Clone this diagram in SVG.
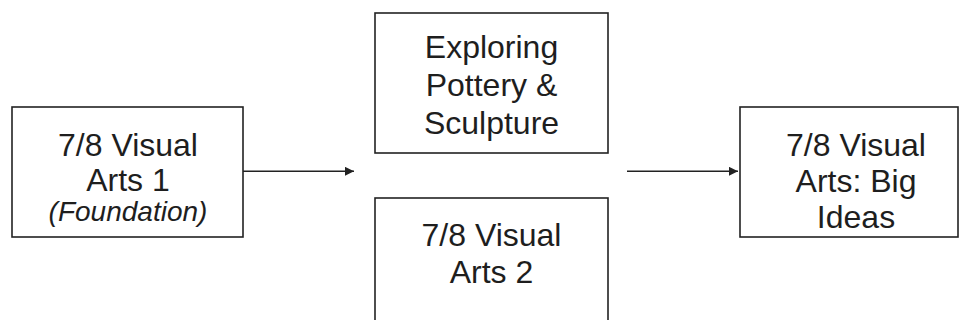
<svg xmlns="http://www.w3.org/2000/svg" width="960" height="320" viewBox="0 0 960 320">
  <defs>
    <style>
      .box { fill: #ffffff; stroke: #222222; stroke-width: 1.6; }
      .lbl { font-family: "Liberation Sans", Arial, sans-serif; font-size: 32px; fill: #1e1e1e; text-anchor: middle; }
      .it { font-style: italic; font-size: 28px; }
      .edge { fill: none; stroke: #222222; stroke-width: 1.6; }
    </style>
    <marker id="arrow" viewBox="0 0 10 10" refX="10" refY="5" markerWidth="10" markerHeight="9" markerUnits="userSpaceOnUse" orient="auto">
      <path d="M0,0 L10,5 L0,10 Z" fill="#222222"/>
    </marker>
  </defs>
  <rect width="960" height="320" fill="#ffffff"/>

  <g id="node-va1">
    <rect class="box" x="12" y="107" width="231" height="130"/>
    <text class="lbl" x="128" y="156">7/8 Visual</text>
    <text class="lbl" x="128" y="191">Arts 1</text>
    <text class="lbl it" x="128" y="221">(Foundation)</text>
  </g>

  <g id="node-pottery">
    <rect class="box" x="375" y="13" width="233" height="140"/>
    <text class="lbl" x="491.5" y="58">Exploring</text>
    <text class="lbl" x="491.5" y="96">Pottery &amp;</text>
    <text class="lbl" x="491.5" y="134">Sculpture</text>
  </g>

  <g id="node-va2">
    <rect class="box" x="375" y="198" width="233" height="140"/>
    <text class="lbl" x="491.5" y="246">7/8 Visual</text>
    <text class="lbl" x="491.5" y="283">Arts 2</text>
  </g>

  <g id="node-bigideas">
    <rect class="box" x="740" y="107" width="218" height="130"/>
    <text class="lbl" x="856" y="156">7/8 Visual</text>
    <text class="lbl" x="856" y="192">Arts: Big</text>
    <text class="lbl" x="856" y="228">Ideas</text>
  </g>

  <g id="connectors">
    <line class="edge" x1="243" y1="171.3" x2="354" y2="171.3" marker-end="url(#arrow)"/>
    <line class="edge" x1="627" y1="171.3" x2="738" y2="171.3" marker-end="url(#arrow)"/>
  </g>
</svg>
